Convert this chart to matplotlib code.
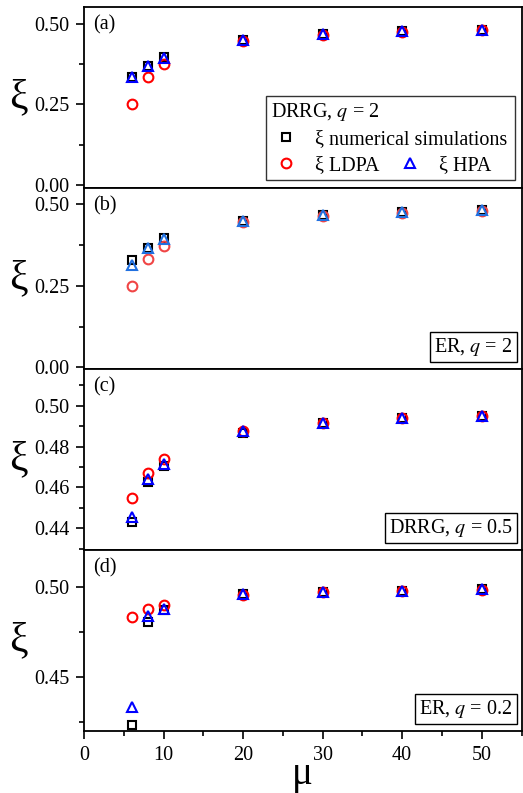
import matplotlib
matplotlib.use('Agg')
import matplotlib.pyplot as plt
from matplotlib.ticker import MultipleLocator, FormatStrFormatter

plt.rcParams['font.family'] = ['Liberation Serif', 'DejaVu Serif']
plt.rcParams['mathtext.fontset'] = 'stix'

# data
mu = [6, 8, 10, 20, 30, 40, 50]

a_sim = [0.334, 0.369, 0.399, 0.450, 0.468, 0.477, 0.482]
a_ldpa = [0.251, 0.336, 0.376, 0.447, 0.467, 0.476, 0.481]
a_hpa = [0.334, 0.369, 0.394, 0.451, 0.468, 0.477, 0.482]

b_sim = [0.330, 0.366, 0.396, 0.447, 0.465, 0.475, 0.481]
b_ldpa = [0.249, 0.332, 0.371, 0.445, 0.464, 0.474, 0.480]
b_hpa = [0.313, 0.366, 0.393, 0.448, 0.466, 0.475, 0.481]

c_sim = [0.4431, 0.4628, 0.4704, 0.4868, 0.4914, 0.4938, 0.4950]
c_ldpa = [0.4546, 0.4668, 0.4740, 0.4877, 0.4917, 0.4940, 0.4951]
c_hpa = [0.4455, 0.4639, 0.4712, 0.4878, 0.4917, 0.4940, 0.4952]

d_sim = [0.4231, 0.4806, 0.4870, 0.4959, 0.4972, 0.4978, 0.4986]
d_ldpa = [0.4832, 0.4875, 0.4899, 0.4955, 0.4970, 0.4977, 0.4985]
d_hpa = [0.4334, 0.4838, 0.4875, 0.4961, 0.4973, 0.4979, 0.4987]

panels = [
    ('(a)', a_sim, a_ldpa, a_hpa, (-0.01, 0.553), 0.25, 0.125, 'red', 'blue'),
    ('(b)', b_sim, b_ldpa, b_hpa, (-0.005, 0.549), 0.25, 0.125, '#f04545', '#2070e0'),
    ('(c)', c_sim, c_ldpa, c_hpa, (0.4293, 0.518), 0.02, 0.01, 'red', 'blue'),
    ('(d)', d_sim, d_ldpa, d_hpa, (0.4198, 0.5205), 0.05, 0.025, 'red', 'blue'),
]
boxes = [None, 'ER, $q$ = 2', 'DRRG, $q$ = 0.5', 'ER, $q$ = 0.2']

fig = plt.figure(figsize=(5.23, 7.93), dpi=100)
left, right, top, bottom = 84 / 523, 521.5 / 523, 1 - 7 / 793, 1 - 731 / 793
h = (top - bottom) / 4

axes = []
for i, (lab, sim, ldpa, hpa, ylim, major, minor, cr, cb) in enumerate(panels):
    ax = fig.add_axes([left, top - (i + 1) * h, right - left, h])
    axes.append(ax)
    l1, = ax.plot(mu, sim, 's', ms=5.5, mfc='none', mec='black', mew=1.5, ls='none')
    l2, = ax.plot(mu, ldpa, 'o', ms=7, mfc='none', mec=cr, mew=1.5, ls='none')
    l3, = ax.plot(mu, hpa, '^', ms=7.5, mfc='none', mec=cb, mew=1.5, ls='none')
    ax.set_xlim(0, 55)
    ax.set_ylim(*ylim)
    ax.yaxis.set_major_locator(MultipleLocator(major))
    ax.yaxis.set_minor_locator(MultipleLocator(minor))
    ax.yaxis.set_major_formatter(FormatStrFormatter('%.2f'))
    ax.xaxis.set_major_locator(MultipleLocator(10))
    ax.xaxis.set_minor_locator(MultipleLocator(5))
    ax.tick_params(which='both', direction='out', labelsize=14.5, width=1.2)
    ax.tick_params(which='major', length=6, pad=4.5)
    ax.tick_params(which='minor', length=3.5)
    for s in ax.spines.values():
        s.set_linewidth(1.3)
    ax.set_ylabel('ξ', fontsize=30, rotation=0, ha='center', va='center')
    ax.text(0.02, 0.955, lab, transform=ax.transAxes, fontsize=14.5, va='top', ha='left')
    if i < 3:
        ax.tick_params(axis='x', which='both', bottom=False, labelbottom=False)
    if boxes[i]:
        ax.text(0.98, 0.06, boxes[i], transform=ax.transAxes, fontsize=14.5,
                ha='right', va='bottom',
                bbox=dict(boxstyle='square,pad=0.2', fc='white', ec='black', lw=1))
    if i == 0:
        blank, = ax.plot([], [], ls='none', marker='none')
        leg = ax.legend([l1, l2, blank, l3],
                        ['ξ numerical simulations', 'ξ LDPA', '', 'ξ HPA    '],
                        ncol=2, loc='lower right', bbox_to_anchor=(0.995, 0.02),
                        title='DRRG, $q$ = 2', alignment='left',
                        fontsize=14.5, title_fontsize=14.5, frameon=True, fancybox=False,
                        edgecolor='black', columnspacing=-5.6, handletextpad=0.7,
                        handlelength=1.5, borderpad=0.25, labelspacing=0.35,
                        borderaxespad=0.2)
        leg.get_frame().set_linewidth(1)

for ax in axes:
    ax.yaxis.set_label_coords(-0.15, 0.5)

axes[-1].set_xlabel('μ', fontsize=28, labelpad=-6)

fig.savefig('out.png', dpi=100)
